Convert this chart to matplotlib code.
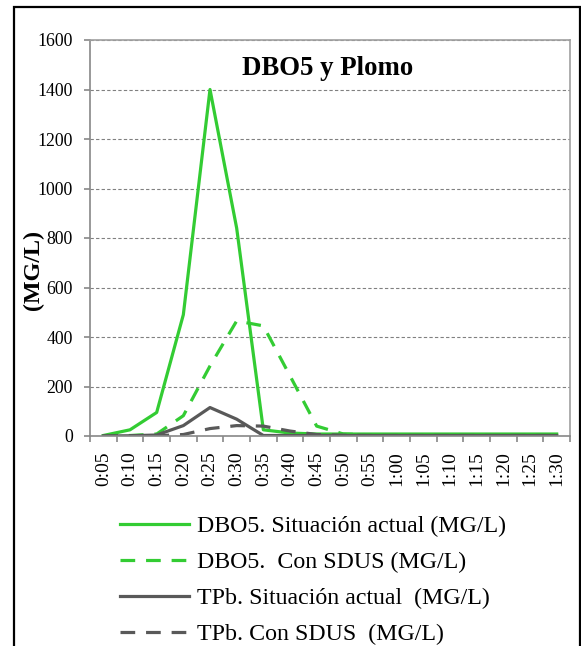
import matplotlib.pyplot as plt
from matplotlib.patches import Rectangle
import numpy as np

plt.rcParams["font.family"] = ["Liberation Serif", "DejaVu Serif"]

# Datos
tiempos = ["0:05", "0:10", "0:15", "0:20", "0:25", "0:30", "0:35", "0:40", "0:45",
           "0:50", "0:55", "1:00", "1:05", "1:10", "1:15", "1:20", "1:25", "1:30"]
dbo5_actual = [2, 25, 95, 490, 1400, 840, 25, 12, 8, 8, 8, 8, 8, 8, 8, 8, 8, 8]
dbo5_sdus = [0, 2, 8, 82, 283, 465, 445, 243, 40, 8, 5, 5, 5, 5, 5, 5, 5, 5]
tpb_actual = [0, 1, 4, 42, 115, 68, 2, 2, 2, 2, 2, 2, 2, 2, 2, 2, 2, 2]
tpb_sdus = [0, 0, 1, 6, 30, 42, 40, 20, 6, 3, 2, 2, 2, 2, 2, 2, 2, 2]

C_VERDE = "#33CC33"
C_GRIS = "#595959"

fig = plt.figure(figsize=(5.81, 6.46), dpi=100)
ax = fig.add_axes([90 / 581, 1 - 436 / 646, (570 - 90) / 581, (436 - 40) / 646])

x = np.arange(len(tiempos))
lw = 2.3
guion = (4.6, 3.4)
ax.plot(x, dbo5_actual, color=C_VERDE, lw=lw, label="DBO5. Situación actual (MG/L)")
ax.plot(x, dbo5_sdus, color=C_VERDE, lw=lw, dashes=guion, label="DBO5.  Con SDUS (MG/L)")
ax.plot(x, tpb_actual, color=C_GRIS, lw=lw, label="TPb. Situación actual  (MG/L)")
ax.plot(x, tpb_sdus, color=C_GRIS, lw=lw, dashes=guion, label="TPb. Con SDUS  (MG/L)")

ax.set_xlim(-0.5, len(tiempos) - 0.5)
ax.set_ylim(0, 1600)
ax.set_yticks(np.arange(0, 1601, 200))
ax.set_xticks(x)
ax.set_xticklabels(tiempos, rotation=90)
ax.set_xticks(np.arange(-0.5, len(tiempos), 1), minor=True)
ax.tick_params(axis="x", which="major", length=0, labelsize=14, pad=11)
ax.tick_params(axis="x", which="minor", length=4.3, color="#888888", width=1.2)
ax.tick_params(axis="y", length=4.3, color="#888888", width=1.2, labelsize=12.8, pad=8)
ax.yaxis.grid(True, linestyle=(0, (3, 2)), color="#808080", lw=0.8)
ax.set_axisbelow(True)
for s in ax.spines.values():
    s.set_color("#A0A0A0")
    s.set_linewidth(1.2)
ax.spines["left"].set_color("#888888")
ax.spines["bottom"].set_color("#888888")

ax.set_ylabel("(MG/L)", fontsize=17.3, fontweight="bold")
ax.yaxis.set_label_coords(-0.096, 0.42)

fig.text(328 / 581, 1 - 75 / 646, "DBO5 y Plomo", ha="center", va="baseline",
         fontsize=19.3, fontweight="bold")

handles, labels = ax.get_legend_handles_labels()
fig.legend(handles, labels, loc="upper left", bbox_to_anchor=(98 / 581, 1 - 494 / 646),
           frameon=False, fontsize=17.2, handlelength=2.93, handletextpad=0.33,
           labelspacing=0.6)

# marco exterior
fig.patches.append(Rectangle((14 / 581, -0.05), 566 / 581, 1 - 7 / 646 + 0.05,
                             transform=fig.transFigure, fill=False,
                             edgecolor="black", lw=1.6, clip_on=False))

fig.savefig("out.png", dpi=100)
